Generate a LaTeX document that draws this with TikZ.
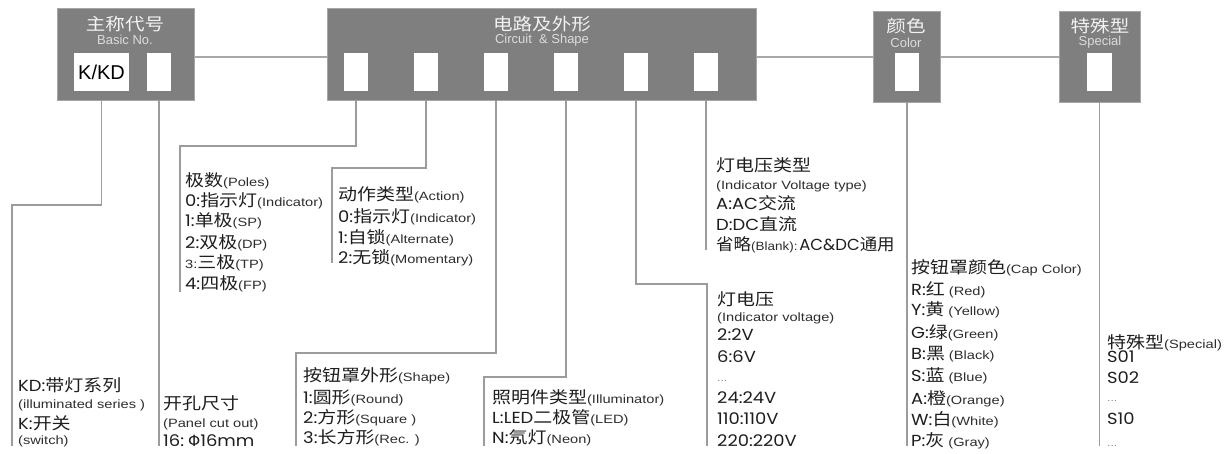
\documentclass[tikz,border=0pt]{standalone}
\usepackage{graphicx}
\usepackage{fontspec}
\newfontfamily\zhfont{Noto Sans CJK SC}[FakeStretch=1.15]
\newfontfamily\enfont{Liberation Sans}[FakeStretch=1.22]
\newfontfamily\cdfont{Poppins}[FakeStretch=1.12]
\newfontfamily\phifont{DejaVu Sans}
\newfontfamily\ttlfont{Liberation Sans}
\definecolor{boxgray}{HTML}{7F7F7F}
\definecolor{boxedge}{HTML}{A6A6A6}
\definecolor{linegray}{HTML}{9C9C9C}
\definecolor{busgray}{HTML}{A8A8A8}
\definecolor{textblack}{HTML}{1E1E1E}
\definecolor{engray}{HTML}{2E2E2E}
\definecolor{dotgray}{HTML}{8A8A8A}
\definecolor{ttlwhite}{HTML}{F2F2F2}
\definecolor{ttlen}{HTML}{DCDCDC}
\newcommand\tZH[1]{{\zhfont\fontsize{16.5}{18}\selectfont #1}}
\newcommand\tEN[1]{{\enfont\fontsize{12}{14}\selectfont\color{engray}#1}}
\newcommand\tCD[1]{{\cdfont\fontsize{16}{18}\selectfont #1}}
\newcommand\tSP{\hspace{4pt}}
\newcommand\tDOT{{\enfont\fontsize{10}{12}\selectfont\color{dotgray}...}}
\newcommand\tPHI{{\phifont\fontsize{15.5}{16}\selectfont \symbol{"03A6}}}
\tikzset{
  gbox/.style={fill=boxgray, draw=boxedge, line width=0.8pt, inner sep=0pt, outer sep=0pt, anchor=north west},
  wbox/.style={fill=white, draw=none, inner sep=0pt, outer sep=0pt, anchor=north west, minimum width=24, minimum height=38},
  conn/.style={draw=linegray, line width=1.3pt},
  bus/.style={draw=busgray, line width=2pt},
  txt/.style={anchor=base west, inner sep=0pt, text=textblack},
  ttlzh/.style={inner sep=0pt, text=ttlwhite, font=\zhfont\fontsize{17}{18}\selectfont},
  ttlen/.style={inner sep=0pt, text=ttlen, font=\ttlfont\fontsize{13}{14}\selectfont}
}
\begin{document}
\begin{tikzpicture}[x=1pt,y=-1pt]
\useasboundingbox[fill=white] (0,0) rectangle (1227,453);

\coordinate (e1) at (180,292);
\coordinate (e2) at (332,263);
\coordinate (e3) at (296,446);
\coordinate (e4) at (484,446);
\coordinate (e5) at (707,446);
\coordinate (e7) at (12,446);

% boxes
\node[gbox, minimum width=137, minimum height=92] (basic) at (57,8) {};
\node[gbox, minimum width=429, minimum height=92] (circ) at (327,8) {};
\node[gbox, minimum width=67, minimum height=91] (color) at (873,11) {};
\node[gbox, minimum width=81, minimum height=91] (spec) at (1059,11) {};

\draw[bus] ([yshift=-3pt]basic.east) -- ([yshift=-3pt]circ.west);
\draw[bus] ([yshift=-3pt]circ.east) -- ([yshift=-0.5pt]color.west);
\draw[bus] ([yshift=-0.5pt]color.east) -- ([yshift=-0.5pt]spec.west);

\node[wbox, minimum width=55, font=\ttlfont\fontsize{20}{22}\selectfont, text=black] (b1) at (74,53) {K/KD};
\node[wbox] (b2) at (147,53) {};
\foreach \i/\x in {1/344,2/414,3/484,4/554,5/624,6/694}
  \node[wbox] (c\i) at (\x,53) {};
\node[wbox] (cw) at (895,53) {};
\node[wbox, minimum width=25] (sw) at (1087,53) {};

% titles
\node[ttlzh] (basicT) at (125,24) {主称代号};
\node[ttlen] (basicE) at (125,40) {Basic No.};
\node[ttlzh] (circT) at (542,24) {电路及外形};
\node[ttlen] (circE) at (542,40) {Circuit \ \& Shape};
\node[ttlzh] (colT) at (906,26) {颜色};
\node[ttlen] (colE) at (906,43) {Color};
\node[ttlzh] (spT) at (1100,26) {特殊型};
\node[ttlen] (spE) at (1100,42) {Special};

% connector lines
\draw[conn] (b1.south |- basic.south) -- ++(0,105) -| (e7);
\draw[conn] (b2.south |- basic.south) -- ++(0,346);
\draw[conn] (c1.south |- circ.south) -- ++(0,46) -| (e1);
\draw[conn] (c2.south |- circ.south) -- ++(0,68) -| (e2);
\draw[conn] (c3.south |- circ.south) -- ++(0,253) -| (e3);
\draw[conn] (c4.south |- circ.south) -- ++(0,277) -| (e4);
\draw[conn] (c5.south |- circ.south) -- ++(0,184) -| (e5);
\draw[conn] (c6.south |- circ.south) -- ++(0,150);
\draw[conn] (cw.south |- color.south) -- ++(0,344);
\draw[conn] (sw.south |- spec.south) -- ++(0,344);

% KD block
\node[txt] (kd1) at (18,391) {\tCD{KD:}\tZH{带灯系列}};
\node[txt] (kd2) at (18,408) {\tEN{(illuminated series )}};
\node[txt] (kd3) at (18,429) {\tCD{K:}\tZH{开关}};
\node[txt] (kd4) at (18,444) {\tEN{(switch)}};
% panel
\node[txt] (pn1) at (163,409) {\tZH{开孔尺寸}};
\node[txt] (pn2) at (163,427) {\tEN{(Panel cut out)}};
\node[txt] (pn3) at (163,446) {\tCD{16:}\tSP\tPHI\tCD{16mm}};
% poles
\node[txt] (po1) at (185,186) {\tZH{极数}\tEN{(Poles)}};
\node[txt] (po2) at (185,206) {\tCD{0:}\tZH{指示灯}\tEN{(Indicator)}};
\node[txt] (po3) at (185,226) {\tCD{1:}\tZH{单极}\tEN{(SP)}};
\node[txt] (po4) at (185,248) {\tCD{2:}\tZH{双极}\tEN{(DP)}};
\node[txt] (po5) at (185,268) {\tEN{3:}\tZH{三极}\tEN{(TP)}};
\node[txt] (po6) at (185,289) {\tCD{4:}\tZH{四极}\tEN{(FP)}};
% action
\node[txt] (ac1) at (338,200) {\tZH{动作类型}\tEN{(Action)}};
\node[txt] (ac2) at (338,222) {\tCD{0:}\tZH{指示灯}\tEN{(Indicator)}};
\node[txt] (ac3) at (338,243) {\tCD{1:}\tZH{自锁}\tEN{(Alternate)}};
\node[txt] (ac4) at (338,263) {\tCD{2:}\tZH{无锁}\tEN{(Momentary)}};
% shape
\node[txt] (sh1) at (303,381) {\tZH{按钮罩外形}\tEN{(Shape)}};
\node[txt] (sh2) at (303,403) {\tCD{1:}\tZH{圆形}\tEN{(Round)}};
\node[txt] (sh3) at (303,423) {\tCD{2:}\tZH{方形}\tEN{(Square )}};
\node[txt] (sh4) at (303,443) {\tCD{3:}\tZH{长方形}\tEN{(Rec. )}};
% illuminator
\node[txt] (il1) at (492,403) {\tZH{照明件类型}\tEN{(Illuminator)}};
\node[txt] (il2) at (492,423) {\tCD{L:LED}\tZH{二极管}\tEN{(LED)}};
\node[txt] (il3) at (492,443) {\tCD{N:}\tZH{氖灯}\tEN{(Neon)}};
% voltage type
\node[txt] (vt1) at (716,171) {\tZH{灯电压类型}};
\node[txt] (vt2) at (716,189) {\tEN{(Indicator Voltage type)}};
\node[txt] (vt3) at (716,209) {\tCD{A:AC}\tZH{交流}};
\node[txt] (vt4) at (716,230) {\tCD{D:DC}\tZH{直流}};
\node[txt] (vt5) at (716,250) {\scalebox{0.92}[1]{\tZH{省略}\tEN{(Blank):}\hspace{2pt}\tCD{AC\&DC}\tZH{通用}}};
% voltage
\node[txt] (vo1) at (717,305) {\tZH{灯电压}};
\node[txt] (vo2) at (717,321) {\tEN{(Indicator voltage)}};
\node[txt] (vo3) at (717,340) {\tCD{2:2V}};
\node[txt] (vo4) at (717,362) {\tCD{6:6V}};
\node[txt] (vo5) at (717,381) {\tDOT};
\node[txt] (vo6) at (717,403) {\tCD{24:24V}};
\node[txt] (vo7) at (717,424) {\tCD{110:110V}};
\node[txt] (vo8) at (717,446) {\tCD{220:220V}};
% colour
\node[txt] (co1) at (911,273) {\tZH{按钮罩颜色}\tEN{(Cap Color)}};
\node[txt] (co2) at (911,295) {\tCD{R:}\tZH{红}\tSP\tEN{(Red)}};
\node[txt] (co3) at (911,315) {\tCD{Y:}\tZH{黄}\tSP\tEN{(Yellow)}};
\node[txt] (co4) at (911,338) {\tCD{G:}\tZH{绿}\tEN{(Green)}};
\node[txt] (co5) at (911,359) {\tCD{B:}\tZH{黑}\tSP\tEN{(Black)}};
\node[txt] (co6) at (911,381) {\tCD{S:}\tZH{蓝}\tSP\tEN{(Blue)}};
\node[txt] (co7) at (911,404) {\tCD{A:}\tZH{橙}\tEN{(Orange)}};
\node[txt] (co8) at (911,425) {\tCD{W:}\tZH{白}\tEN{(White)}};
\node[txt] (co9) at (911,446) {\tCD{P:}\tZH{灰}\tSP\tEN{(Gray)}};
% special
\node[txt] (sp1) at (1107,348) {\tZH{特殊型}\tEN{(Special)}};
\node[txt] (sp2) at (1107,362) {\tCD{S01}};
\node[txt] (sp3) at (1107,383) {\tCD{S02}};
\node[txt] (sp4) at (1107,401) {\tDOT};
\node[txt] (sp5) at (1107,424) {\tCD{S10}};
\node[txt] (sp6) at (1107,446) {\tDOT};
\end{tikzpicture}
\end{document}
